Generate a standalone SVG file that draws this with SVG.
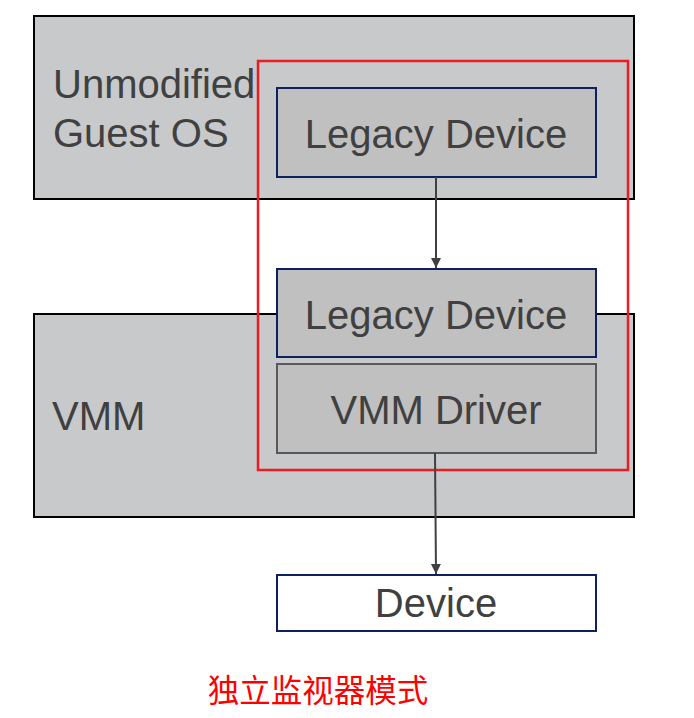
<svg xmlns="http://www.w3.org/2000/svg" width="694" height="718" viewBox="0 0 694 718">
<defs>
<style>
.layer{fill:#c8c9cb;stroke:#000;stroke-width:2}
.blk{fill:#c0c0c0;stroke:#0f2060;stroke-width:2}
.drv{fill:#c0c0c0;stroke:#595959;stroke-width:2}
.dev{fill:#fff;stroke:#0f2060;stroke-width:2}
.t{font-family:"Liberation Sans",Arial,sans-serif;font-size:40px;fill:#404040}
.c{text-anchor:middle}
.conn{stroke:#404040;stroke-width:2;fill:none}
</style>
<marker id="ah" markerWidth="12" markerHeight="12" refX="10" refY="6" orient="auto" markerUnits="userSpaceOnUse">
<path d="M0,1 L10,6 L0,11 Z" fill="#404040"/>
</marker>
</defs>
<rect width="694" height="718" fill="#fff"/>
<g id="guest">
<rect class="layer" x="34" y="16" width="600" height="183"/>
<text class="t" x="53" y="98">Unmodified</text>
<text class="t" x="53" y="147">Guest OS</text>
</g>
<g id="vmm">
<rect class="layer" x="34" y="314" width="600" height="203"/>
<text class="t" x="52" y="430">VMM</text>
</g>
<g id="legacy1">
<rect class="blk" x="277" y="88" width="319" height="89"/>
<text class="t c" x="436" y="148">Legacy Device</text>
</g>
<g id="legacy2">
<rect class="blk" x="277" y="269" width="319" height="88"/>
<text class="t c" x="436" y="329">Legacy Device</text>
</g>
<g id="driver">
<rect class="drv" x="277" y="364" width="319" height="89"/>
<text class="t c" x="436" y="424">VMM Driver</text>
</g>
<g id="device">
<rect class="dev" x="277" y="575" width="319" height="56"/>
<text class="t c" x="436" y="617">Device</text>
</g>
<g id="frame">
<rect x="258" y="61" width="370" height="409" fill="none" stroke="#ed1c24" stroke-width="2.5"/>
</g>
<g id="connectors">
<line class="conn" x1="436" y1="177" x2="436" y2="268" marker-end="url(#ah)"/>
<line class="conn" x1="435" y1="453" x2="436" y2="574" marker-end="url(#ah)"/>
</g>
<g id="caption">
<text x="318" y="702" text-anchor="middle" font-family="'Noto Sans CJK SC',sans-serif" font-size="31.5" fill="#ff0000">独立监视器模式</text>
</g>
</svg>
